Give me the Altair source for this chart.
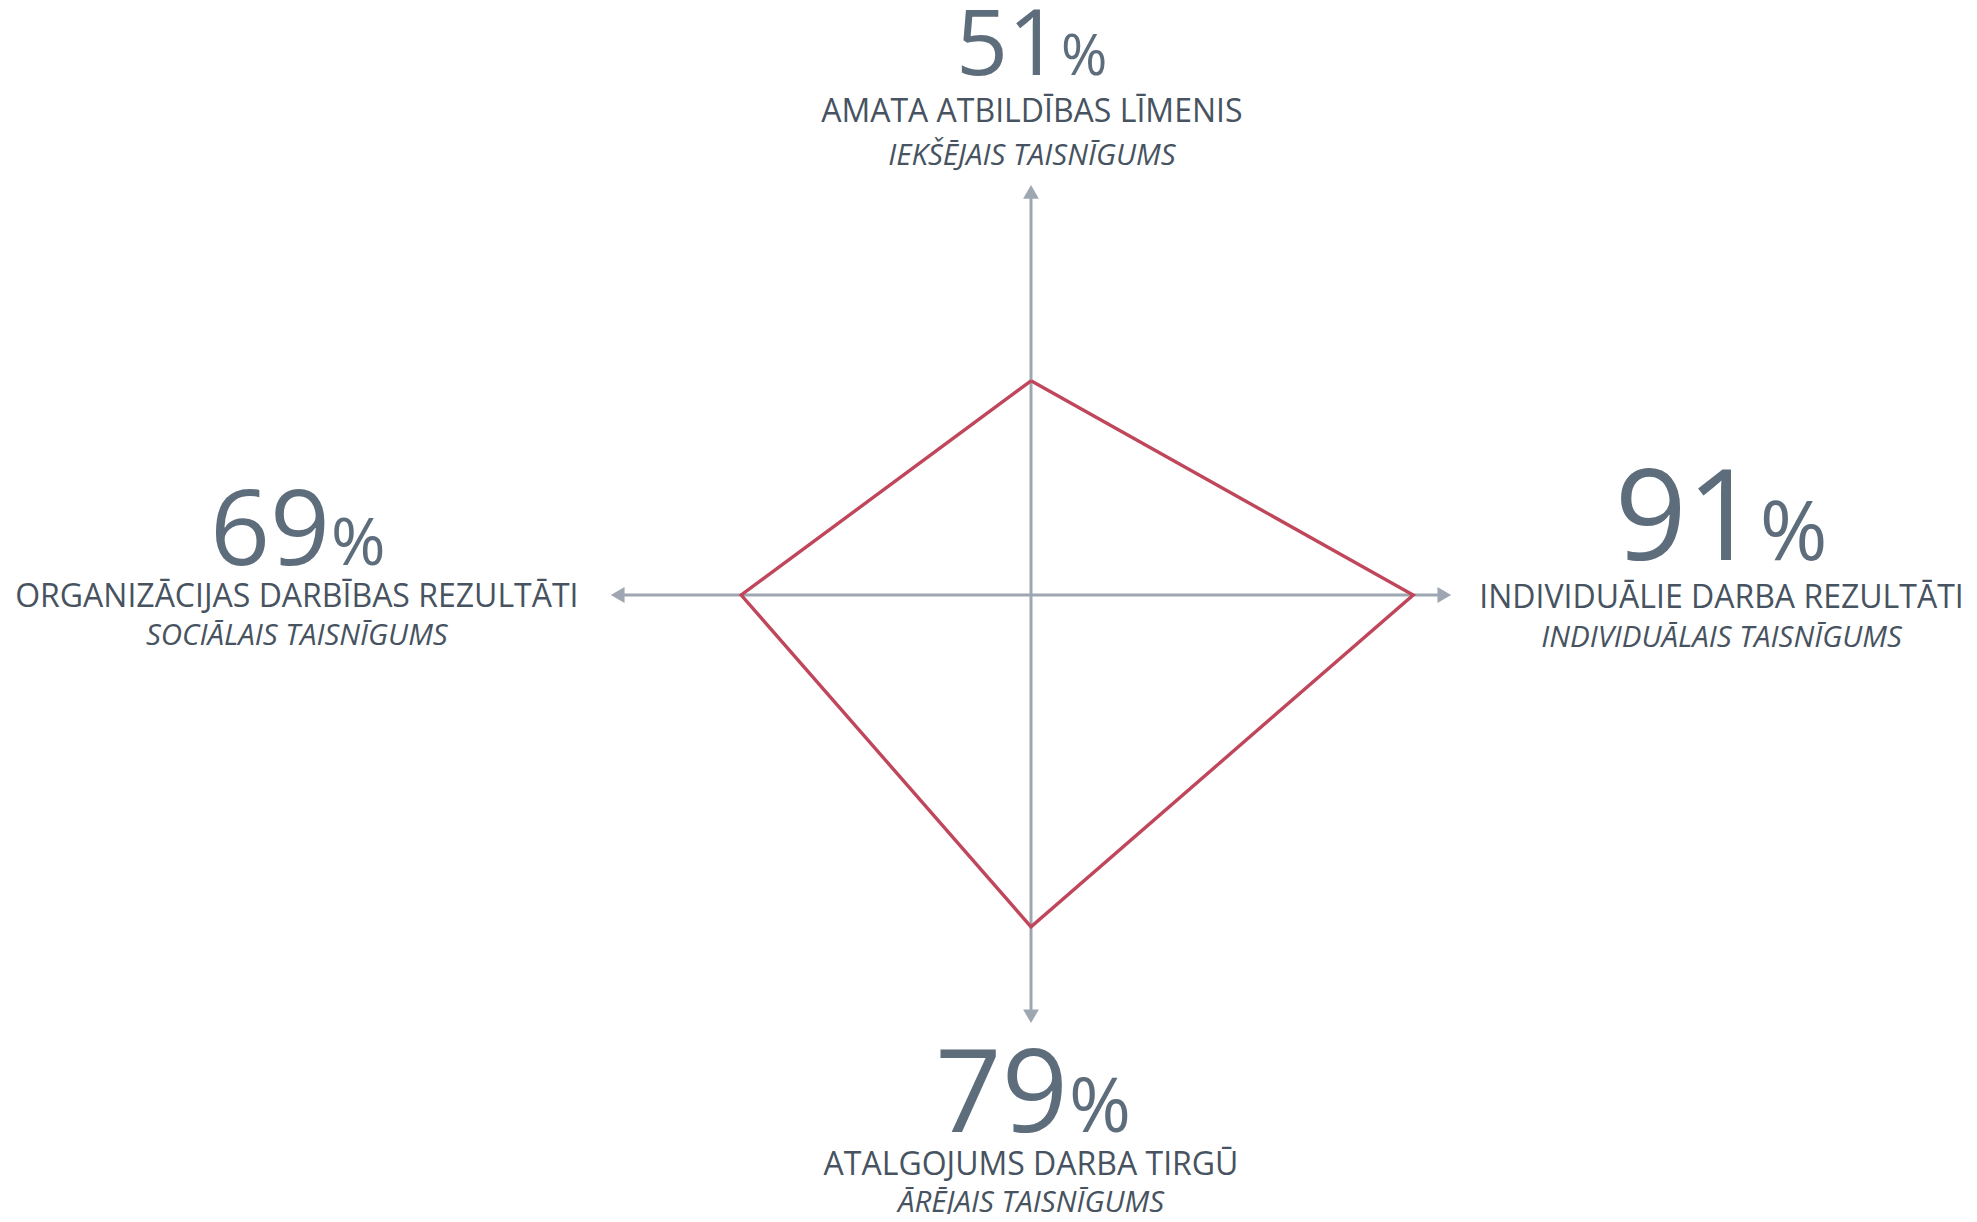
import altair as alt
import pandas as pd

# ---- data ----
CATEGORIES = [
    "AMATA ATBILDĪBAS LĪMENIS",
    "INDIVIDUĀLIE DARBA REZULTĀTI",
    "ATALGOJUMS DARBA TIRGŪ",
    "ORGANIZĀCIJAS DARBĪBAS REZULTĀTI",
]
SUBTITLES = [
    "IEKŠĒJAIS TAISNĪGUMS",
    "INDIVIDUĀLAIS TAISNĪGUMS",
    "ĀRĒJAIS TAISNĪGUMS",
    "SOCIĀLAIS TAISNĪGUMS",
]
VALUES = [51, 91, 79, 69]
ANGLES = [90, 0, 270, 180]  # direction of each axis, degrees

# ---- layout (data units, 1 unit = 1 %) ----
AXIS_LEN = [97.6, 100.0, 101.9, 100.0]
ARROW_BACK = 1.6
NUM_X = [6.9, 173.3, 8.8, -166.9]
NUM_Y = [123.8, 8.3, -127.9, 7.1]
LAB_X = [0.2, 164.4, 0.0, -174.8]
LAB_Y = [112.6, -3.1, -138.1, -2.9]
SUB_Y = [102.4, -12.4, -146.8, -11.9]
NUM_SIZE = [91, 126, 116, 105]
PCT_SIZE = [56, 82, 75, 66]
SHAPES = ["triangle-up", "triangle-right", "triangle-down", "triangle-left"]

W, H = 1961, 1206
PX = 4.2
CX, CY = 1031 - 8, 595 - 8
XDOM = [-CX / PX, (W - CX) / PX]
YDOM = [(CY - H) / PX, CY / PX]

FONT = "Open Sans"
NUM_COLOR = "#5e6d7c"
TXT_COLOR = "#475360"
AXIS_COLOR = "#9ea7b1"
RED = "#c0475b"

df = pd.DataFrame({
    "cat": CATEGORIES, "sub": SUBTITLES, "value": VALUES, "angle": ANGLES,
    "len": AXIS_LEN, "shape": SHAPES,
    "nx": NUM_X, "ny": NUM_Y, "lx": LAB_X, "ly": LAB_Y, "sy": SUB_Y,
    "nsize": NUM_SIZE, "psize": PCT_SIZE,
})
df["order"] = range(len(df))
df["num"] = df["value"].astype(str)
df["pct"] = "%"

xs = alt.Scale(domain=XDOM, nice=False, zero=False)
ys = alt.Scale(domain=YDOM, nice=False, zero=False)

base = alt.Chart(df)

axes = base.transform_calculate(
    x0="0", y0="0",
    ex=f"cos(datum.angle*PI/180)*(datum.len-{ARROW_BACK})",
    ey=f"sin(datum.angle*PI/180)*(datum.len-{ARROW_BACK})",
).mark_rule(color=AXIS_COLOR, strokeWidth=3).encode(
    x=alt.X("x0:Q", scale=xs, axis=None),
    y=alt.Y("y0:Q", scale=ys, axis=None),
    x2="ex:Q", y2="ey:Q",
)

arrows = base.transform_calculate(
    ax=f"cos(datum.angle*PI/180)*(datum.len-{ARROW_BACK})",
    ay=f"sin(datum.angle*PI/180)*(datum.len-{ARROW_BACK})",
).mark_point(filled=True, color=AXIS_COLOR, opacity=1, size=250, strokeWidth=0).encode(
    x=alt.X("ax:Q", scale=xs, axis=None),
    y=alt.Y("ay:Q", scale=ys, axis=None),
    shape=alt.Shape("shape:N", scale=None),
)

# closed polygon: repeat first point at the end
poly_df = pd.concat([df, df.iloc[[0]].assign(order=len(df))], ignore_index=True)
polygon = alt.Chart(poly_df).transform_calculate(
    px="cos(datum.angle*PI/180)*datum.value",
    py="sin(datum.angle*PI/180)*datum.value",
).mark_line(color=RED, strokeWidth=3.4, strokeJoin="miter").encode(
    x=alt.X("px:Q", scale=xs, axis=None),
    y=alt.Y("py:Q", scale=ys, axis=None),
    order="order:Q",
)

nums = base.mark_text(font=FONT, align="right", baseline="alphabetic", color=NUM_COLOR).encode(
    x=alt.X("nx:Q", scale=xs, axis=None),
    y=alt.Y("ny:Q", scale=ys, axis=None),
    text="num:N",
    size=alt.Size("nsize:Q", scale=None),
)
pcts = base.mark_text(font=FONT, align="left", baseline="alphabetic", color=NUM_COLOR, dx=1).encode(
    x=alt.X("nx:Q", scale=xs, axis=None),
    y=alt.Y("ny:Q", scale=ys, axis=None),
    text="pct:N",
    size=alt.Size("psize:Q", scale=None),
)
labels = base.mark_text(font=FONT, align="center", baseline="alphabetic", color=TXT_COLOR, fontSize=32).encode(
    x=alt.X("lx:Q", scale=xs, axis=None),
    y=alt.Y("ly:Q", scale=ys, axis=None),
    text="cat:N",
)
subs = base.mark_text(font=FONT, align="center", baseline="alphabetic", color=TXT_COLOR, fontSize=29.5,
                      fontStyle="italic").encode(
    x=alt.X("lx:Q", scale=xs, axis=None),
    y=alt.Y("sy:Q", scale=ys, axis=None),
    text="sub:N",
)

chart = alt.layer(axes, arrows, polygon, nums, pcts, labels, subs).properties(
    width=W, height=H, padding=0, autosize="none"
).configure_view(stroke=None)

chart.save("out.html", embed_options={"renderer": "svg", "actions": False})
